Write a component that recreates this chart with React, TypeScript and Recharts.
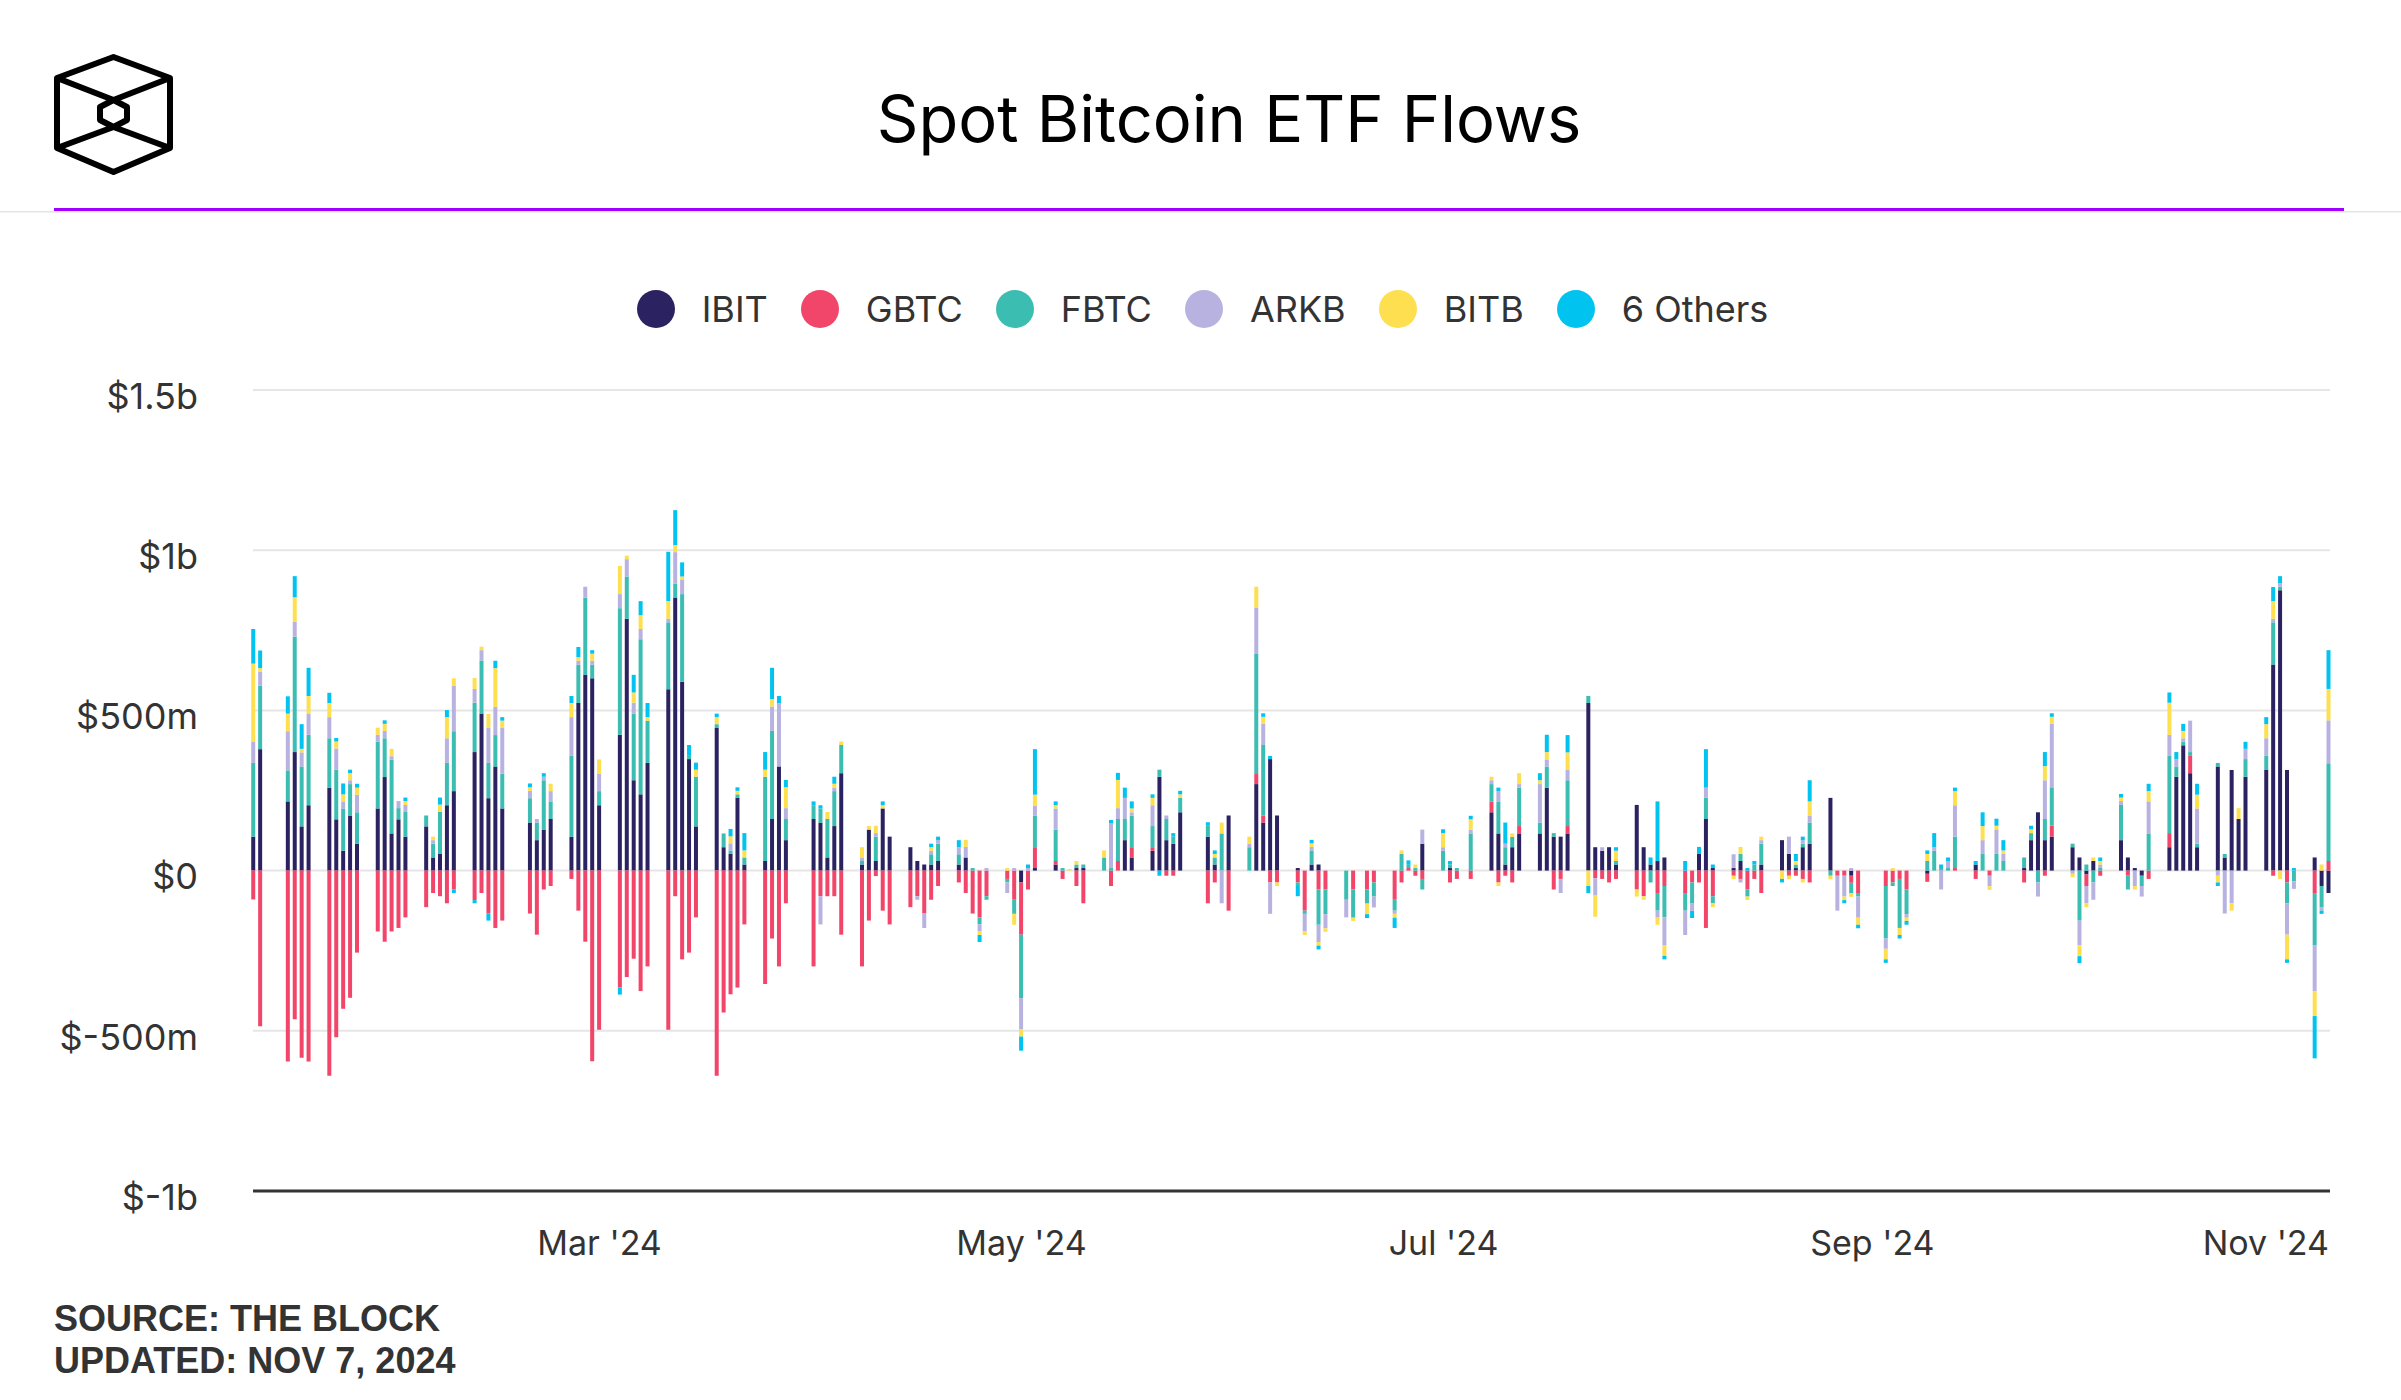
import React from 'react';
import { BarChart, Bar, XAxis, YAxis, CartesianGrid } from 'recharts';

const FONT = 'Inter, "Noto Sans", sans-serif';

// trading days (MM-DD, 2024)
const dates = [
  '01-11','01-12','01-16','01-17','01-18','01-19','01-22','01-23','01-24','01-25','01-26','01-29','01-30','01-31',
  '02-01','02-02','02-05','02-06','02-07','02-08','02-09','02-12','02-13','02-14','02-15','02-16','02-20','02-21','02-22','02-23','02-26','02-27','02-28','02-29',
  '03-01','03-04','03-05','03-06','03-07','03-08','03-11','03-12','03-13','03-14','03-15','03-18','03-19','03-20','03-21','03-22','03-25','03-26','03-27','03-28',
  '04-01','04-02','04-03','04-04','04-05','04-08','04-09','04-10','04-11','04-12','04-15','04-16','04-17','04-18','04-19','04-22','04-23','04-24','04-25','04-26','04-29','04-30',
  '05-01','05-02','05-03','05-06','05-07','05-08','05-09','05-10','05-13','05-14','05-15','05-16','05-17','05-20','05-21','05-22','05-23','05-24','05-28','05-29','05-30','05-31',
  '06-03','06-04','06-05','06-06','06-07','06-10','06-11','06-12','06-13','06-14','06-17','06-18','06-20','06-21','06-24','06-25','06-26','06-27','06-28',
  '07-01','07-02','07-03','07-05','07-08','07-09','07-10','07-11','07-12','07-15','07-16','07-17','07-18','07-19','07-22','07-23','07-24','07-25','07-26','07-29','07-30','07-31',
  '08-01','08-02','08-05','08-06','08-07','08-08','08-09','08-12','08-13','08-14','08-15','08-16','08-19','08-20','08-21','08-22','08-23','08-26','08-27','08-28','08-29','08-30',
  '09-03','09-04','09-05','09-06','09-09','09-10','09-11','09-12','09-13','09-16','09-17','09-18','09-19','09-20','09-23','09-24','09-25','09-26','09-27','09-30',
  '10-01','10-02','10-03','10-04','10-07','10-08','10-09','10-10','10-11','10-14','10-15','10-16','10-17','10-18','10-21','10-22','10-23','10-24','10-25','10-28','10-29','10-30','10-31',
  '11-01','11-04','11-05','11-06',
];

// daily flows, $m
const ibit = [
  106,379,216,370,138,204,259,160,62,172,84,194,292,116,
  160,106,138,41,52,204,248,370,490,226,325,194,150,95,128,161,106,523,611,600,
  204,424,786,282,238,336,566,852,589,348,138,445,73,52,227,19,30,161,325,95,
  161,150,41,139,304,19,128,30,194,106,73,30,19,19,30,19,41,0,0,0,0,0,
  -37,0,8,19,0,0,8,8,0,0,0,95,41,62,293,95,84,182,106,19,0,172,
  0,270,150,348,172,8,0,19,19,0,0,0,0,0,0,0,0,0,84,
  0,8,0,0,182,116,19,73,116,116,259,106,106,116,523,73,62,73,19,205,73,19,
  30,41,0,0,52,161,8,8,30,0,0,19,95,52,8,73,84,227,0,0,-16,0,
  0,0,0,0,-10,0,0,0,0,19,0,0,0,0,8,95,182,95,106,73,
  41,-12,30,0,95,41,8,-16,0,73,293,391,304,73,325,41,314,161,293,314,643,875,314,
  0,41,-48,-70,
];
const gbtc = [
  -90,-486,-596,-464,-584,-596,-640,-520,-431,-397,-256,-190,-222,-190,
  -179,-146,-114,-70,-80,-102,-59,-92,-70,-134,-179,-156,-134,-200,-59,-48,-26,-125,-222,-595,
  -497,-365,-332,-275,-376,-299,-497,-80,-277,-256,-146,-640,-443,-386,-365,-168,-354,-212,-299,-102,
  -299,-80,-80,-80,-200,-299,-156,-17,-125,-168,-114,-80,-134,-91,-48,-37,-70,-134,-146,-80,-26,-91,
  -163,-59,65,11,-26,0,-48,-102,0,-48,30,0,32,11,0,-16,-16,0,-102,-37,0,-125,
  0,34,22,-37,-37,-37,-125,0,-59,-59,0,-59,-59,-37,-91,-37,8,-16,-26,
  0,-37,-26,-26,34,-37,-16,-37,23,0,0,-59,-26,23,0,-24,-26,-37,-26,-59,-80,0,
  -70,-48,-70,-37,-37,-179,-80,-16,-26,-59,-26,-70,0,-16,-16,-26,-37,0,-16,-16,-22,-70,
  -48,-37,-26,-59,-25,0,0,0,8,-26,0,-16,0,0,-37,0,0,-16,34,0,
  0,-36,0,-16,0,-16,0,0,-26,44,0,0,54,0,0,0,0,0,0,0,-16,0,-37,
  0,-70,0,30,
];
const fbtc = [
  230,198,97,360,187,220,154,155,132,98,98,208,121,230,
  35,77,34,43,131,132,187,154,166,110,98,109,76,55,154,55,252,120,241,43,
  44,395,132,208,484,132,209,44,274,10,155,12,43,11,11,22,263,275,0,66,
  43,44,120,109,88,11,0,76,0,0,0,0,0,32,54,32,0,8,-22,-11,-11,-44,
  -198,0,98,98,8,0,11,11,41,8,131,66,98,66,22,66,22,45,34,22,116,0,
  73,374,220,0,0,-11,-10,44,-110,-77,-91,-88,-44,-44,-34,52,10,8,-33,
  62,11,8,116,54,100,54,32,120,34,66,11,0,143,22,0,0,0,11,0,0,-37,
  -55,-98,-55,-66,0,66,-22,0,22,-22,19,65,0,0,11,11,66,-16,0,0,-33,-11,
  -164,-11,-153,-77,30,62,8,8,98,0,52,0,52,30,33,22,-37,66,120,11,
  -156,19,-37,8,110,-43,0,-32,116,241,32,11,12,11,11,11,0,0,55,44,132,11,-65,
  -33,-164,-66,305,
];
const arkb = [
  66,43,122,46,44,65,66,66,22,12,55,22,23,11,
  22,22,0,11,0,77,142,43,32,109,88,142,23,11,11,32,121,12,34,12,
  55,44,54,34,32,0,11,98,44,0,0,0,0,22,0,0,0,76,198,34,
  0,-88,0,11,0,11,0,11,0,0,0,-11,-45,11,11,22,33,0,-22,8,-33,8,
  -98,8,32,66,0,0,0,0,0,139,34,66,11,65,0,11,0,0,0,0,-102,0,
  11,142,66,-98,0,0,-55,11,-54,-44,-55,0,0,-34,-10,0,0,0,44,
  11,0,0,12,12,32,11,0,11,120,22,0,-44,32,0,-54,11,0,0,0,0,0,
  -22,-88,-76,-23,0,32,0,43,-11,0,0,11,0,54,0,11,22,0,-109,-65,8,-66,
  -32,0,0,-11,0,11,-59,22,98,0,43,-33,77,22,0,0,-44,121,198,-10,
  -77,-54,-54,11,12,0,-48,-33,100,66,23,11,98,110,-16,-134,-102,0,32,55,11,11,-98,
  -24,-143,-11,134,
];
const bitb = [
  244,12,55,77,11,56,44,22,22,22,22,22,22,23,
  0,12,0,11,23,66,23,34,11,44,121,23,11,0,0,23,44,11,0,22,
  44,88,11,32,43,11,55,22,11,0,22,22,0,22,11,22,22,23,0,65,
  0,0,22,12,11,32,11,23,10,0,0,0,0,11,0,0,22,0,-11,0,8,-34,
  -22,0,34,10,0,5,11,0,22,0,88,0,12,23,0,0,0,11,0,11,34,0,
  22,66,22,0,-11,0,-11,11,-11,-11,0,-10,-33,0,-12,11,0,11,0,
  44,0,0,32,11,-11,0,11,34,12,23,0,0,55,-48,-66,0,0,32,-22,-11,0,
  -22,-32,0,0,0,0,-12,-11,22,-11,0,11,-26,-11,11,-11,44,-11,0,-11,-11,-22,
  -33,8,-22,-10,22,0,0,0,44,0,44,-11,11,11,0,12,0,44,22,-11,
  -34,-12,11,11,11,0,-11,0,32,100,0,23,0,43,-21,0,-23,34,0,44,55,-26,-77,
  0,-77,19,98,
];
const others = [
  108,55,54,66,77,88,32,11,34,11,12,0,11,0,
  0,11,0,0,22,22,-11,-10,0,-22,23,11,12,0,11,0,22,32,0,11,
  0,-22,0,55,44,44,154,109,44,34,22,11,0,23,11,54,55,98,22,23,
  12,10,0,22,0,0,0,0,12,0,0,0,0,11,11,22,0,0,-22,0,0,0,
  -44,11,142,12,0,0,0,0,0,11,22,32,22,11,-16,0,11,11,11,11,0,0,
  0,0,11,10,0,-32,0,11,-12,0,0,0,-12,0,-32,0,14,0,0,
  12,11,0,11,0,11,66,0,0,22,54,0,0,54,-22,0,0,0,11,0,0,22,
  186,-11,30,-22,22,120,11,0,0,8,11,0,-11,0,22,11,66,0,0,-10,0,-11,
  -11,0,-11,-12,11,44,11,11,11,11,43,0,22,32,0,11,0,44,11,0,
  -22,0,0,11,11,0,0,0,23,32,22,22,0,34,-11,0,0,0,22,22,44,22,-11,
  8,-132,-10,121,
];

const seriesKeys = ['IBIT', 'GBTC', 'FBTC', 'ARKB', 'BITB', 'OTH'];
const seriesNames = ['IBIT', 'GBTC', 'FBTC', 'ARKB', 'BITB', '6 Others'];
const seriesColors = ['#2B2261', '#F2456A', '#3CBDB2', '#B8B2E1', '#FDDF50', '#00C4EF'];
const seriesValues = [ibit, gbtc, fbtc, arkb, bitb, others];

const yTicks = [-1000, -500, 0, 500, 1000, 1500];
const xTickDates = ['03-01', '05-01', '07-01', '09-01', '11-01'];
const xTickLabels = ["Mar '24", "May '24", "Jul '24", "Sep '24", "Nov '24"];

const dayIndex = (md: string) => {
  const [m, d] = md.split('-').map(Number);
  return Math.round((Date.UTC(2024, m - 1, d) - Date.UTC(2024, 0, 1)) / 86400000);
};

const data = dates.map((d, i) => {
  const row: any = { day: dayIndex(d) };
  seriesKeys.forEach((k, j) => { row[k] = seriesValues[j][i]; });
  return row;
});

const xTicks = xTickDates.map(dayIndex);

const W = 2401;
const H = 1400;
const PLOT_LEFT = 253;
const PLOT_RIGHT = 2330;
const PLOT_TOP = 390;
const PLOT_BOTTOM = 1191;
const Y_AXIS_W = 200;
const X_AXIS_H = 60;

const fmtY = (v: number) => {
  if (v === 0) return '$0';
  if (Math.abs(v) >= 1000) return `$${v / 1000}b`;
  return `$${v}m`;
};

const XTick = (props: any) => {
  const { x, y, payload } = props;
  const idx = xTicks.indexOf(payload.value);
  const last = idx === xTicks.length - 1;
  return (
    <text
      x={last ? PLOT_RIGHT - 1 : x}
      y={y}
      dy="0.71em"
      textAnchor={last ? 'end' : 'middle'}
      fill="#333"
      fontSize={34}
      fontFamily={FONT}
    >
      {xTickLabels[idx]}
    </text>
  );
};

const YTick = (props: any) => {
  const { x, y, payload } = props;
  return (
    <text x={x} y={y + 6} dy="0.355em" textAnchor="end" fill="#333" fontSize={36} fontFamily={FONT}>
      {fmtY(payload.value)}
    </text>
  );
};

export default function App() {
  return (
    <div style={{ position: 'absolute', left: 0, top: 0, width: W, height: H, background: '#fff', overflow: 'hidden' }}>
      <div style={{ position: 'absolute', left: 0, top: 0 }}>
        <BarChart
          width={W}
          height={H}
          data={data}
          stackOffset="sign"
          barSize={4}
          margin={{ top: PLOT_TOP, right: W - PLOT_RIGHT, bottom: H - PLOT_BOTTOM - X_AXIS_H, left: PLOT_LEFT - Y_AXIS_W }}
        >
          <CartesianGrid vertical={false} stroke="#e6e6e6" strokeWidth={2} />
          <XAxis
            dataKey="day"
            type="number"
            domain={[9.9, 310.15]}
            ticks={xTicks}
            height={X_AXIS_H}
            axisLine={{ stroke: '#333', strokeWidth: 3 }}
            tickLine={false}
            tickMargin={34}
            tick={<XTick />}
            interval={0}
          />
          <YAxis
            type="number"
            domain={[-1000, 1500]}
            ticks={yTicks}
            width={Y_AXIS_W}
            axisLine={false}
            tickLine={false}
            tickMargin={49}
            tick={<YTick />}
            interval={0}
          />
          {seriesKeys.map((k, j) => (
            <Bar key={k} dataKey={k} name={seriesNames[j]} stackId="flows" fill={seriesColors[j]} isAnimationActive={false} />
          ))}
        </BarChart>
      </div>

      <svg width={W} height={230} style={{ position: 'absolute', left: 0, top: 0 }}>
        <g stroke="#000" strokeWidth={6} fill="none" strokeLinejoin="round">
          <polygon points="113.5,57 170,78 170,148 113.5,172 57,148 57,78" />
          <polyline points="57,78 113.5,100 170,78" />
          <polyline points="57,148 113.5,127 170,148" />
          <polygon points="113.5,100 127,107 127,120 113.5,127 100,120 100,107" />
        </g>
        <text x={1229} y={142} textAnchor="middle" fontSize={65} fontFamily={FONT} fill="#000">
          Spot Bitcoin ETF Flows
        </text>
        <rect x={0} y={211} width={W} height={1.5} fill="#e4e4e4" />
        <rect x={54} y={208} width={2290} height={3} fill="#9F00FF" />
      </svg>

      <div
        style={{
          position: 'absolute', left: 0, top: 289, width: W + 4, height: 40,
          display: 'flex', justifyContent: 'center', alignItems: 'center',
          fontFamily: FONT, fontSize: 36, color: '#333',
        }}
      >
        {seriesNames.map((n, j) => (
          <div key={n} style={{ display: 'flex', alignItems: 'center', marginRight: j < seriesNames.length - 1 ? 33 : 0 }}>
            <div style={{ width: 38, height: 38, borderRadius: 19, background: seriesColors[j], marginRight: 27 }} />
            <span>{n}</span>
          </div>
        ))}
      </div>

      <svg width={W} height={120} style={{ position: 'absolute', left: 0, top: 1280 }}>
        <text x={54} y={51} fontSize={36} fontWeight="bold" fontFamily='"Liberation Sans", Arial, sans-serif' fill="#333">
          SOURCE: THE BLOCK
        </text>
        <text x={54} y={93} fontSize={36} fontWeight="bold" fontFamily='"Liberation Sans", Arial, sans-serif' fill="#333">
          UPDATED: NOV 7, 2024
        </text>
      </svg>
    </div>
  );
}
